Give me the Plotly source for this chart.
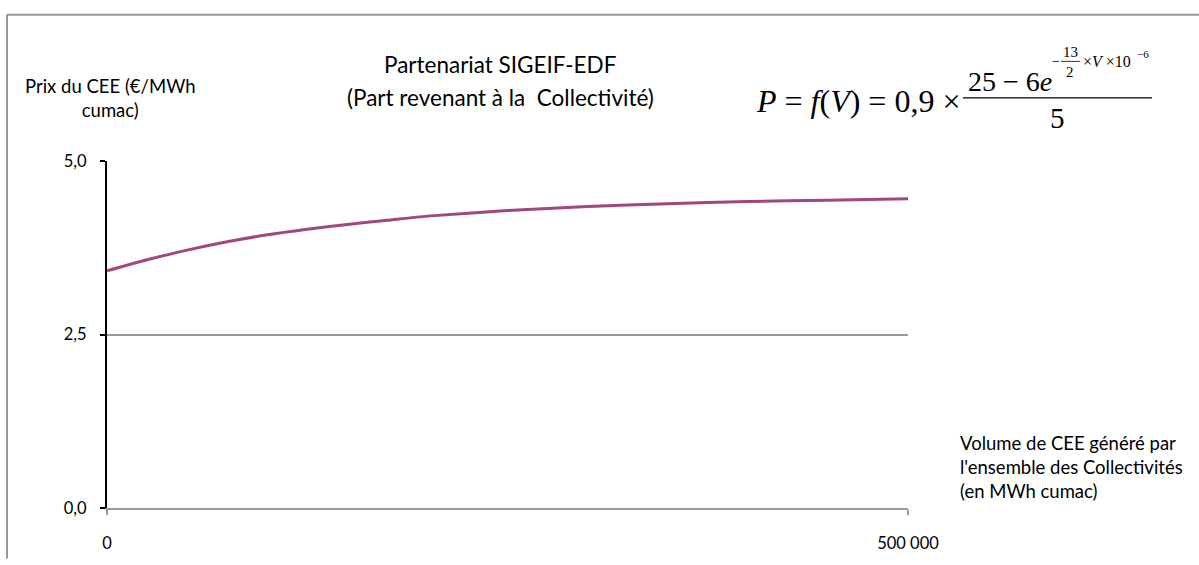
import plotly.graph_objects as go

# Data
volume_mwh = [0, 25000, 50000, 75000, 100000, 125000, 150000, 175000, 200000,
              250000, 300000, 350000, 400000, 450000, 500000]
prix_cee = [3.42, 3.58, 3.72, 3.84, 3.94, 4.02, 4.09, 4.15, 4.21,
            4.29, 4.35, 4.39, 4.42, 4.44, 4.46]
y_tick_vals = [0, 2.5, 5]
y_tick_text = ["0,0", "2,5", "5,0"]
x_tick_vals = [0, 500000]
x_tick_text = ["0", "500 000"]

W, H = 1199, 565
L, R, T, B = 107, 908, 161, 518

def xp(px):
    return (px - L) / (R - L)

def yp(py):
    return (B - py) / (B - T)

fig = go.Figure()
fig.add_trace(go.Scatter(
    x=volume_mwh, y=prix_cee, mode="lines",
    line=dict(color="#A2477E", width=3, shape="spline", smoothing=0.6),
    hoverinfo="skip", showlegend=False,
))

sans = "Lato, 'Open Sans', sans-serif"
serif = "'Liberation Serif', 'DejaVu Serif', serif"

fig.update_layout(
    width=W, height=H, autosize=False,
    margin=dict(l=L, r=W - R, t=T, b=H - B, pad=0),
    paper_bgcolor="white", plot_bgcolor="white",
    font=dict(family=sans, size=16, color="#000"),
    showlegend=False,
    xaxis=dict(
        range=[0, 500000], tickvals=x_tick_vals, ticktext=x_tick_text,
        showgrid=False, zeroline=False,
        showline=True, linecolor="#999", linewidth=1.5,
        ticks="outside", ticklen=5, tickcolor="#999", tickwidth=1.5,
        ticklabelstandoff=14, tickfont=dict(size=16.5, family=sans),
        fixedrange=True,
    ),
    yaxis=dict(
        range=[0, 5.005], tickvals=y_tick_vals, ticktext=y_tick_text,
        showgrid=True, gridcolor="#9a9a9a", gridwidth=1.5,
        zeroline=False,
        showline=True, linecolor="#000", linewidth=2,
        ticks="outside", ticklen=5, tickcolor="#000", tickwidth=1.5,
        ticklabelstandoff=10, tickfont=dict(size=16.5, family=sans),
        fixedrange=True,
    ),
)

ann = []
def add_text(text, px, py, size=15, xanchor="center", family=sans, align="center"):
    ann.append(dict(text=text, x=xp(px), y=yp(py), xref="paper", yref="paper",
                    xanchor=xanchor, yanchor="middle", showarrow=False,
                    align=align, font=dict(size=size, family=family, color="#000")))

# Titles
add_text("Partenariat SIGEIF-EDF", 500, 62, size=22.5)
add_text("(Part revenant à la  Collectivité)", 500, 96, size=22.5)
add_text("Prix du CEE (€/MWh<br>cumac)", 110, 96, size=18.5)
add_text("Volume de CEE généré par<br>l'ensemble des Collectivités<br>(en MWh cumac)",
         958, 476, size=18.5, xanchor="left", align="left")

# Formula
add_text("<i>P</i> = <i>f</i>(<i>V</i>) = 0,9 ×", 754, 99, size=32, xanchor="left", family=serif)
add_text("25 − 6<i>e</i>", 966, 79, size=28, xanchor="left", family=serif)
add_text("−", 1050, 59, size=14, xanchor="left", family=serif)
add_text("13", 1070, 49, size=15, family=serif)
add_text("2", 1070, 69, size=15, family=serif)
add_text("×<i>V</i> ×10", 1081, 59, size=16, xanchor="left", family=serif)
add_text("−6", 1135, 51, size=11, xanchor="left", family=serif)
add_text("5", 1057, 117, size=29, family=serif)
fig.update_layout(annotations=ann)

shapes = [
    # fraction bars
    dict(type="line", xref="paper", yref="paper", x0=xp(963), x1=xp(1152),
         y0=yp(96), y1=yp(96), line=dict(color="#000", width=1.3)),
    dict(type="line", xref="paper", yref="paper", x0=xp(1061), x1=xp(1080),
         y0=yp(58.5), y1=yp(58.5), line=dict(color="#000", width=0.8)),
    # frame border
    dict(type="line", xref="paper", yref="paper", x0=xp(7), x1=xp(1199),
         y0=yp(10.5), y1=yp(10.5), line=dict(color="#9a9a9a", width=2)),
    dict(type="line", xref="paper", yref="paper", x0=xp(7), x1=xp(7),
         y0=yp(10), y1=yp(570), line=dict(color="#9a9a9a", width=2)),
]
fig.update_layout(shapes=shapes)

fig.write_html(
    "out.html", config={"displayModeBar": False, "responsive": False},
    post_script=(
        "document.documentElement.style.margin='0';"
        "document.documentElement.style.padding='0';"
        "document.documentElement.style.overflow='hidden';"
        "document.body.style.margin='0';"
        "document.body.style.padding='0';"
        "document.body.style.overflow='hidden';"
    ),
)
